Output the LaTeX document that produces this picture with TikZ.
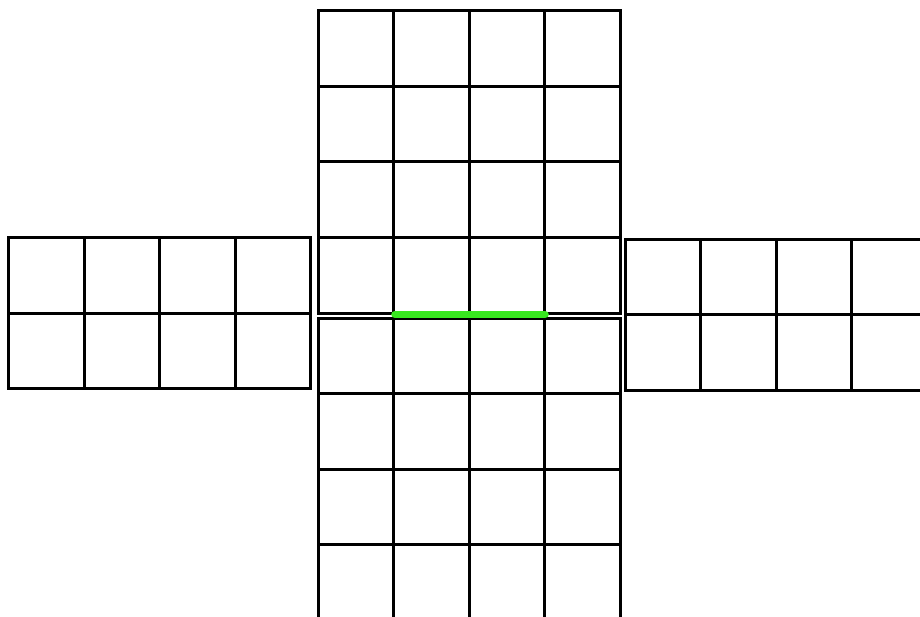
\documentclass[tikz,border=0pt]{standalone}
\usepackage{tikz}
\usepackage{xcolor}

\definecolor{edgegreen}{RGB}{56,232,31}

\begin{document}
\begin{tikzpicture}[
  x=0.025cm, y=-0.025cm,
  cellline/.style={draw=black,line width=0.075cm,line cap=rect},
  hiedge/.style={draw=edgegreen,line width=0.19cm,line cap=round}
]
  \useasboundingbox (0,0) rectangle (920,617);
  \clip (0,0) rectangle (920,617);
  % upper and lower faces (4x4)
  \foreach \oy in {11,318} {
    \foreach \i in {0,...,4} {
      \draw[cellline] (318+75.5*\i,\oy) -- (318+75.5*\i,\oy+302);
      \draw[cellline] (318,\oy+75.5*\i) -- (620,\oy+75.5*\i);
    }
  }
  % side faces (4x2)
  \foreach \ox/\oy in {8.5/237.5,625/239} {
    \foreach \i in {0,...,4}
      \draw[cellline] (\ox+75.5*\i,\oy) -- (\ox+75.5*\i,\oy+151);
    \foreach \j in {0,...,2}
      \draw[cellline] (\ox,\oy+75.5*\j) -- (\ox+302,\oy+75.5*\j);
  }
  % shared edge
  \coordinate (e1) at (395,314.5);
  \coordinate (e2) at (545,314.5);
  \draw[hiedge] (e1) -- (e2);
\end{tikzpicture}
\end{document}
